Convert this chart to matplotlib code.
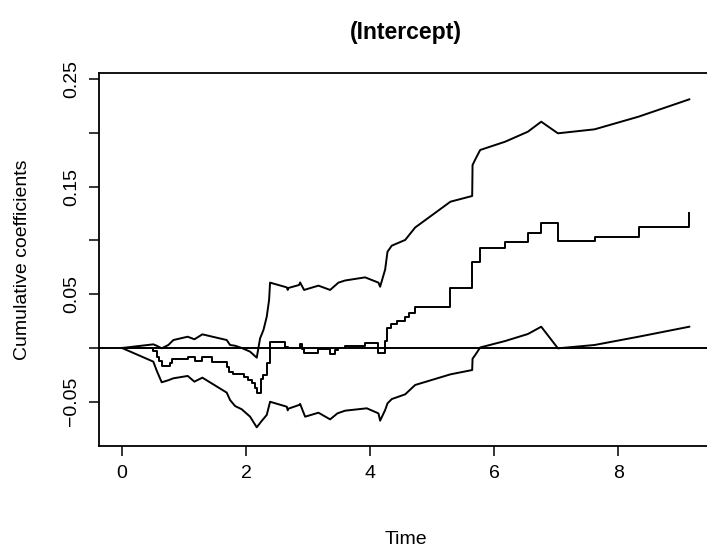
import matplotlib
matplotlib.use("Agg")
import matplotlib.pyplot as plt

plt.rcParams['font.family'] = ['Liberation Sans', 'DejaVu Sans']

# Estimate (step function, value holds from x to the next x)
est_x = [0, 0.505, 0.56, 0.60, 0.64, 0.774, 0.801, 1.070, 1.177, 1.285, 1.446,
         1.688, 1.731, 1.796, 1.968, 2.038, 2.091, 2.145, 2.172, 2.242, 2.280,
         2.333, 2.387, 2.629, 2.683, 2.871, 2.90, 2.935, 3.167, 3.355, 3.435,
         3.489, 3.597, 3.919, 4.134, 4.242, 4.275, 4.340, 4.441, 4.570, 4.629,
         4.726, 5.295, 5.645, 5.768, 6.177, 6.543, 6.758, 7.027, 7.618, 8.328,
         9.145]
est_y = [0, -0.003, -0.008, -0.012, -0.0165, -0.0143, -0.0105, -0.0081, -0.0121,
         -0.0081, -0.0127, -0.0174, -0.022, -0.0245, -0.0267, -0.0298, -0.0329,
         -0.0375, -0.0415, -0.0291, -0.025, -0.0143, 0.0059, 0.0012, 0.0003,
         0.004, -0.001, -0.0049, -0.0012, -0.0056, -0.0015, 0.0, 0.0019, 0.005,
         -0.0049, 0.0068, 0.0183, 0.0223, 0.0251, 0.0285, 0.0322, 0.0384, 0.0558,
         0.0803, 0.0927, 0.0989, 0.1073, 0.116, 0.0995, 0.1036, 0.1129, 0.1259]

# Upper confidence band
up_x = [0, 0.505, 0.559, 0.640, 0.747, 0.828, 1.059, 1.167, 1.296, 1.688, 1.742,
        1.823, 1.93, 2.065, 2.172, 2.226, 2.28, 2.333, 2.371, 2.387, 2.656, 2.672,
        2.68, 2.855, 2.871, 2.935, 3.167, 3.355, 3.489, 3.597, 3.919, 4.134, 4.161,
        4.242, 4.28, 4.349, 4.565, 4.726, 5.295, 5.645, 5.651, 5.70, 5.774, 6.177,
        6.543, 6.758, 7.027, 7.618, 8.328, 9.145]
up_y = [0, 0.0034, 0.0021, -0.0003, 0.0028, 0.0074, 0.0105, 0.0081, 0.0127,
        0.0074, 0.0028, 0.0021, 0.0, -0.0034, -0.009, 0.009, 0.0167, 0.029,
        0.0447, 0.0608, 0.0564, 0.054, 0.0558, 0.0586, 0.061, 0.054, 0.058, 0.054,
        0.0608, 0.0628, 0.0657, 0.0608, 0.057, 0.073, 0.0896, 0.0952, 0.1005,
        0.1121, 0.1361, 0.1414, 0.1702, 0.176, 0.1842, 0.1919, 0.2012, 0.2105,
        0.1997, 0.2034, 0.2152, 0.2313]

# Lower confidence band
lo_x = [0, 0.505, 0.559, 0.640, 0.747, 0.828, 1.059, 1.167, 1.296, 1.688, 1.742,
        1.823, 1.93, 2.065, 2.172, 2.25, 2.333, 2.387, 2.656, 2.672, 2.68, 2.855,
        2.871, 2.952, 3.167, 3.355, 3.473, 3.597, 3.946, 4.134, 4.161, 4.242, 4.28,
        4.349, 4.565, 4.726, 5.295, 5.645, 5.651, 5.70, 5.774, 6.177, 6.543, 6.758,
        7.027, 7.618, 8.328, 9.145]
lo_y = [0, -0.0127, -0.021, -0.0319, -0.030, -0.0282, -0.026, -0.0313, -0.0276,
        -0.0415, -0.0484, -0.054, -0.057, -0.0639, -0.0738, -0.068, -0.0623,
        -0.05, -0.0546, -0.058, -0.0565, -0.053, -0.052, -0.0639, -0.0602,
        -0.0664, -0.0608, -0.0583, -0.0561, -0.0608, -0.0676, -0.0577, -0.0515,
        -0.0475, -0.0431, -0.0344, -0.0245, -0.0205, -0.0100, -0.006, 0.0005,
        0.0065, 0.013, 0.0198, -0.0003, 0.0028, 0.0105, 0.0198]

x_ticks = [0, 2, 4, 6, 8]
y_ticks = [-0.05, 0.0, 0.05, 0.10, 0.15, 0.20, 0.25]
y_ticklabels = ['\u22120.05', '', '0.05', '', '0.15', '', '0.25']

W, H = 707, 553
fig = plt.figure(figsize=(W / 100, H / 100), dpi=100)
L, R, T, B = 99.3, 712.0, 73.0, 445.5
ax = fig.add_axes([L / W, 1 - B / H, (R - L) / W, (B - T) / H])

lw = 1.4
ax.step(est_x, est_y, where='post', color='black', lw=lw)
ax.plot(up_x, up_y, color='black', lw=lw)
ax.plot(lo_x, lo_y, color='black', lw=lw)
ax.axhline(0, color='black', lw=lw)

ax.set_xlim(-0.366, 9.511)
ax.set_ylim(-0.0907, 0.2558)

ax.set_xticks(x_ticks)
ax.set_xticklabels([str(v) for v in x_ticks])
ax.set_yticks(y_ticks)
ax.set_yticklabels(y_ticklabels, rotation=90, va='center')

for s in ax.spines.values():
    s.set_linewidth(1.3)
ax.spines['right'].set_visible(False)
ax.tick_params(direction='out', length=7, width=1.1, labelsize=14,
               colors='black')
ax.tick_params(axis='x', pad=7)
ax.tick_params(axis='y', pad=7)

fig.text((L + R) / 2 / W, 1 - 33 / H, '(Intercept)', ha='center', va='center',
         fontsize=16.6, fontweight='bold')
fig.text((L + R) / 2 / W, 1 - 539 / H, 'Time', ha='center', va='center',
         fontsize=14)
fig.text(23 / W, 1 - (T + B) / 2 / H, 'Cumulative coefficients', ha='center',
         va='center', rotation=90, fontsize=14)

fig.savefig('out.png', dpi=100)
